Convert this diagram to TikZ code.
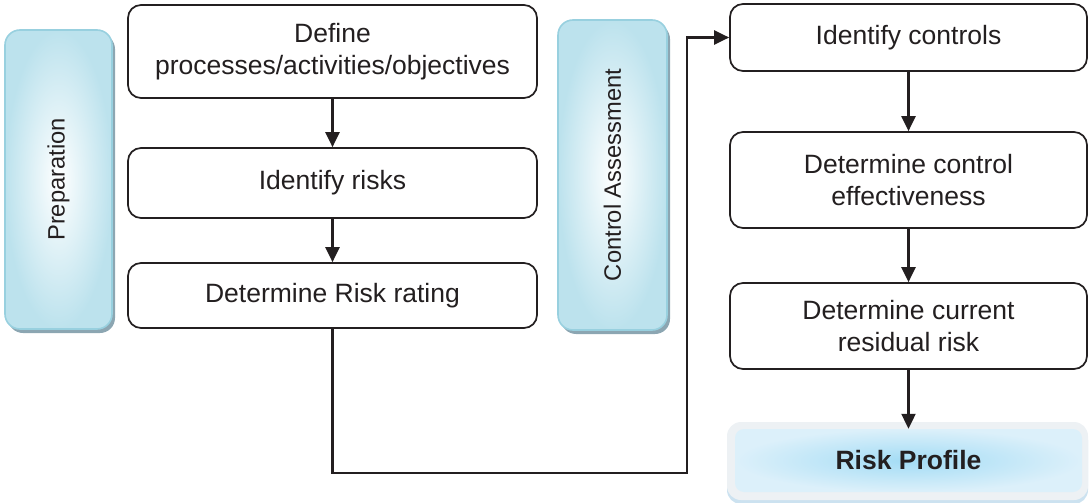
\documentclass[tikz,border=0pt]{standalone}
\usepackage{fontspec}
\setmainfont{Liberation Sans}
\usetikzlibrary{shapes,arrows.meta,shadows,positioning}

\definecolor{inkgray}{HTML}{231F20}
\definecolor{phaseedge}{HTML}{98D0DF}
\definecolor{phaseouter}{HTML}{BCE2ED}
\definecolor{phaseshadow}{HTML}{8CA6B2}
\definecolor{profileframe}{HTML}{EDF1F4}
\definecolor{profileshadow}{HTML}{CCE2F0}
\definecolor{profilecore}{HTML}{A3DCF5}
\definecolor{profilerim}{HTML}{DCF0FA}

\tikzset{
  stepbox/.style={draw=inkgray, line width=1.7pt, rounded corners=13pt, fill=white,
    align=center, text=inkgray, inner sep=0pt, font=\fontsize{26.5}{31.5}\selectfont},
  phase/.style={draw=phaseedge, line width=1.6pt, rounded corners=15pt,
    inner color=white, outer color=phaseouter, text=inkgray, inner sep=0pt,
    font=\fontsize{23.7}{28}\selectfont,
    drop shadow={shadow xshift=3pt, shadow yshift=-4pt, fill=phaseshadow, opacity=1}},
  flow/.style={draw=inkgray, line width=2.2pt, -{Triangle[length=15pt,width=14pt]}}
}

\begin{document}
\begin{tikzpicture}[x=1pt,y=-1pt]
\useasboundingbox (0,0) rectangle (1090,503);

% phases
\node[phase, minimum width=107pt, minimum height=299pt] (prep) at (58.5,179.5) {\rotatebox{90}{Preparation}};
\node[phase, minimum width=109pt, minimum height=310pt] (assess) at (612.5,175) {\rotatebox{90}{Control Assessment}};

% left column
\node[stepbox, minimum width=409pt, minimum height=93pt] (define) at (332.5,51.5) {Define\\processes/activities/objectives};
\node[stepbox, minimum width=409pt, minimum height=70pt] (risks) at (332.5,183) {Identify risks};
\node[stepbox, minimum width=409pt, minimum height=65pt] (rating) at (332.5,295.5) {Determine Risk rating};

% right column
\node[stepbox, minimum width=357pt, minimum height=67pt] (controls) at (908.5,37.5) {Identify controls};
\node[stepbox, minimum width=357pt, minimum height=96pt] (effect) at (908.5,180) {Determine control\\effectiveness};
\node[stepbox, minimum width=357pt, minimum height=86pt] (residual) at (908.5,326) {Determine current\\residual risk};

% result
\node[fill=profileframe, rounded corners=14pt, minimum width=361pt, minimum height=78pt,
  drop shadow={shadow xshift=0pt, shadow yshift=-4pt, fill=profileshadow, opacity=1}] (profile) at (907.5,461) {};
\node[rounded corners=9pt, inner color=profilecore, outer color=profilerim, minimum width=347pt, minimum height=63pt,
  text=inkgray, font=\fontsize{26.5}{31}\selectfont\bfseries] (profilein) at (908.5,460.5) {Risk Profile};

% connectors
\coordinate (turn) at (687,473);
\draw[flow] (define) -- (risks);
\draw[flow] (risks) -- (rating);
\draw[flow] (rating.south) |- (turn) |- (controls.west);
\draw[flow] (controls) -- (effect);
\draw[flow] (effect) -- (residual);
\draw[flow] (residual) -- (profilein.north);
\end{tikzpicture}
\end{document}
